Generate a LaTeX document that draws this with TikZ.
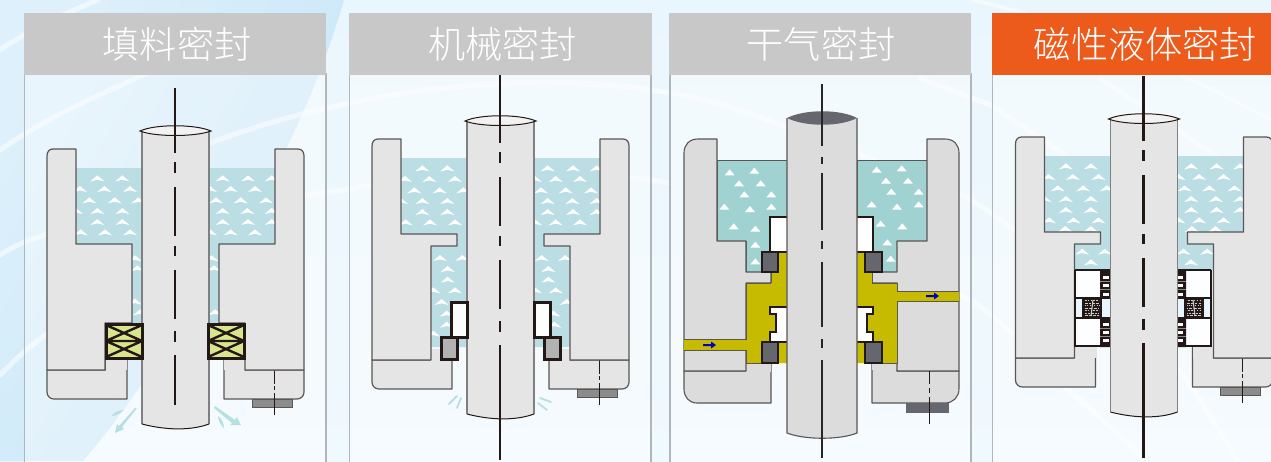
\documentclass[tikz,border=0pt]{standalone}
\usepackage{fontspec}
\newfontfamily\cjk{Noto Sans CJK SC Light}
\definecolor{bodyg}{HTML}{E5E5E5}
\definecolor{bodyh}{HTML}{DCDCDC}
\definecolor{liq}{HTML}{BBDDE4}
\definecolor{liqh}{HTML}{A0D2D2}
\definecolor{ink}{HTML}{231815}
\definecolor{edge}{HTML}{5A5655}
\definecolor{pack}{HTML}{D8E58C}
\definecolor{gas}{HTML}{C7BB00}
\definecolor{slate}{HTML}{66666E}
\definecolor{bolth}{HTML}{8C8C8C}
\definecolor{head}{HTML}{C8C8C8}
\definecolor{hot}{HTML}{EC5A1C}
\definecolor{frame}{HTML}{B0B6BC}
\definecolor{bg}{HTML}{EAF6FD}
\definecolor{drop}{HTML}{B5E0E0}
\definecolor{wedgea}{HTML}{DDF0FB}
\definecolor{wedgeb}{HTML}{C4E5F8}
\tikzset{
  bodypart/.style={fill=bodyg,draw=edge,line width=1.2pt,line join=round},
  bodyparth/.style={fill=bodyh,draw=edge,line width=1.1pt,line join=round},
  shaftside/.style={draw=black!50,line width=1.3pt},
  shaftcap/.style={draw=ink,line width=1pt},
  axisline/.style={draw=ink,line width=2.2pt},
  boltline/.style={draw=ink,line width=.9pt},
  sealbox/.style={draw=ink,line width=3pt,line join=miter},
  headbox/.style={minimum height=62pt,inner sep=0pt,text=white,font=\cjk\fontsize{37.2pt}{38pt}\selectfont},
  streak/.style={draw=white,opacity=.55,line width=5pt,line cap=round},
  panelbox/.style={draw=frame,line width=1.2pt,fill=white,fill opacity=.38}
}
\newcommand{\chv}[2]{\fill[white,shift={({20+#1/3},{80+#2/3})}] (-7,3) -- (0,-3) -- (7,3) -- (0,1.4) -- cycle;}
\newcommand{\tri}[2]{\fill[white,shift={({665+#1/3},{80+#2/3})}] (-5,3) -- (0,-3) -- (5,3) -- cycle;}
\newcommand{\upperchv}{%
  \foreach \a/\b in {232/295,307/295,180/327,253/327,330/327,208/361,284/361,355/361,168/393,232/393,307/393,232/426,307/426,182/457,255/457,330/457,
    608/295,684/295,755/295,570/327,632/327,705/327,588/361,662/361,738/361,608/393,682/393,755/393,608/426,684/426,755/426,570/457,632/457,705/457}{\chv{\a}{\b}}}
\newcommand{\glands}{%
  \path[bodypart] (127,359) -- (127,399) -- (54,399) .. controls (50,399) and (47,396) .. (47,392) -- (47,370) -- (105.5,370) -- (105.5,359);
  \path[fill=bodyg] (105.5,359) rectangle (127,370);
  \path[bodypart] (224,359) -- (224,399) -- (297,399) .. controls (301,399) and (304,396) .. (304,392) -- (304,370) -- (245,370) -- (245,359);
  \path[fill=bodyg] (224,359) rectangle (245,370);
  \path[fill=bolth,draw=edge,line width=.8pt] (252,399) rectangle (292,407);
  \draw[boltline] (274,370) -- (274,384) (274,386) -- (274,390) (274,393) -- (274,415);
}
\newcommand{\bodies}[2]{%
  \path[bodypart] (76,168) -- (76,149) -- (53,149) .. controls (49,149) and (47,152) .. (47,156) -- (47,370) -- #1 -- (76,244) -- cycle;
  \path[bodypart] (275,168) -- (275,149) -- (298,149) .. controls (302,149) and (304,152) .. (304,156) -- (304,370) -- #2 -- (275,244) -- cycle;
}
\newcommand{\shaft}[1]{%
  \path[fill=bodyg] (142,131) -- (209,131) -- (209,424) .. controls (190,431) and (165,430) .. (142,424) -- cycle;
  \path[shaftside] (142,131) -- (142,424) (209,131) -- (209,424);
  \path[shaftcap] (142,424) .. controls (165,430) and (190,431) .. (209,424);
  \path[shaftcap,fill=#1] (140,131) .. controls (155,124) and (195,124) .. (211,131) .. controls (195,137) and (155,137) .. (140,131) -- cycle;
}
\newcommand{\axis}[2]{%
  \path[axisline] (175,#1) -- (175,153) (175,162) -- (175,173) (175,187) -- (175,236) (175,246) -- (175,256) (175,270) -- (175,319) (175,331) -- (175,342) (175,355) -- (175,#2);
}
\newcommand{\magnethalf}{%
  \path[fill=white!92!bg] (1075,270) rectangle (1110,347);
  \path[fill=bg] (1075,298) rectangle (1110,318);
  \path[fill=ink] (1100,270) rectangle (1110,298) (1100,318) rectangle (1110,347);
  \foreach \y in {276,284,293,323,331,339}{\path[fill=white] (1103,\y) rectangle (1109,{\y+3});}
  \foreach \y in {281,289.5,328,336.5}{\path[draw=black!45,line width=.6pt] (1100,\y) -- (1110,\y);}
  \path[fill=ink] (1082,298) rectangle (1102,318);
  \foreach \y/\p in {300.5/1.5,303/2.5,305.5/1,308/3,310.5/1.5,313/2,315.5/2.8}{
    \draw[black!20,line width=1pt,dash pattern=on \p pt off 1.3pt] (1085,\y) -- (1099,\y);}
  \draw[black!20,line width=1.1pt] (1093,300) -- (1091,316);
  \path[draw=ink,line width=2pt] (1075,270) -- (1110,270) (1075,298) -- (1110,298) (1075,318) -- (1110,318);
  \path[draw=ink,line width=2.8pt] (1075,346) -- (1110,346);
  \path[draw=ink,line width=1.6pt] (1075,270) -- (1075,347);
}
\begin{document}
\begin{tikzpicture}[x=1pt,y=-1pt]
\useasboundingbox (0,0) rectangle (1271,461);
\fill[bottom color=bg!70!white,top color=bg] (0,0) rectangle (1271,461);
% blue wedge
\path[left color=wedgea,right color=wedgeb,shading angle=60] (0,0) -- (344,0) .. controls (326,60) and (297,147) .. (210,280) .. controls (170,340) and (138,397) .. (83,461) -- (0,461) -- cycle;
% white streaks
\draw[streak] (0,50) .. controls (30,30) and (60,15) .. (98,0);
\draw[streak] (0,150) .. controls (50,115) and (100,95) .. (165,65);
\draw[streak] (205,145) .. controls (300,108) and (420,85) .. (520,83) .. controls (640,80) and (720,100) .. (775,123) .. controls (840,145) and (900,170) .. (930,185);
\draw[streak] (0,255) .. controls (60,215) and (200,210) .. (345,190) .. controls (460,165) and (560,165) .. (670,183);
\draw[streak] (955,192) .. controls (975,200) and (1000,220) .. (1020,233);
\draw[streak] (0,375) .. controls (15,360) and (30,345) .. (50,332);
\draw[streak] (955,292) .. controls (980,303) and (1000,322) .. (1020,340);
\draw[streak] (920,78) .. controls (945,88) and (965,95) .. (990,105) .. controls (1020,125) and (1050,145) .. (1075,162);
\draw[streak] (1100,78) .. controls (1140,105) and (1200,145) .. (1271,192);
\draw[streak] (1060,383) .. controls (1090,408) and (1120,435) .. (1146,461);
\draw[streak] (1180,370) .. controls (1200,400) and (1220,430) .. (1238,461);
\draw[streak,line width=3.5pt] (972,0) .. controls (1040,15) and (1120,40) .. (1271,120);
% panels
\path[panelbox] (24.5,74) rectangle (326,470);
\path[panelbox] (349.5,74) rectangle (651,470);
\path[panelbox] (670,74) rectangle (971,470);
\path[panelbox] (992.5,74) rectangle (1280,470);
\node[headbox,fill=head,minimum width=302pt] (h1) at (175,44) {\hspace*{4pt}填料密封};
\node[headbox,fill=head,minimum width=303pt] (h2) at (500.5,44) {\hspace*{4pt}机械密封};
\node[headbox,fill=head,minimum width=302pt] (h3) at (820,44) {\hspace*{2pt}干气密封};
\node[headbox,fill=hot,minimum width=279pt,text width=279pt,align=center] (h4) at (1131.5,44) {\hspace*{28pt}磁性液体密封};
% ---------- panel 1
\begin{scope}
\path[fill=liq] (76,168) rectangle (275,244) (132,244) rectangle (219,323);
\upperchv
\foreach \a/\b in {345/535,352/565,345/665,360/697,582/565,585/697,575/535}{\chv{\a}{\b}}
\glands
\bodies{(105,370) -- (105,323) -- (132,323) -- (132,244)}{(245,370) -- (245,323) -- (219,323) -- (219,244)}
\shaft{bodyg!50!white}
\foreach \xa/\xb in {106/142,208/244}{
  \path[sealbox,fill=pack] (\xa,324) rectangle (\xb,358);
  \path[sealbox,line width=2.4pt] (\xa,341) -- (\xb,341) (\xa,325) -- (\xb,341) (\xa,341) -- (\xb,325) (\xa,341) -- (\xb,357) (\xa,357) -- (\xb,341);
}
\axis{88}{405}
% leak arrows
\fill[drop] (135.5,407.5) -- (136.7,408.5) -- (122,427) -- (124,429) -- (115,433) -- (117,424) -- (119,426) -- cycle;
\fill[drop] (124,410) .. controls (118,410) and (112,414) .. (112,416) .. controls (116,416) and (120,413) .. (124,410) -- cycle;
\fill[drop] (215,406) -- (235,420) -- (237,417) -- (241,425) -- (230,425) -- (232,423) -- (214,408) -- cycle;
\fill[drop] (218,416) .. controls (218,420) and (221,426) .. (224,428) .. controls (224,424) and (222,419) .. (218,416) -- cycle;
\end{scope}
% ---------- panel 2
\begin{scope}[shift={(325,-10)}]
\path[fill=liq] (76,168) rectangle (275,244) (106,244) rectangle (245,357);
\upperchv
\foreach \a/\b in {285/564,308/597,308/629,330/661,290/696,352/564,265/661,305/731,305/764,265/791,590/564,610/597,610/629,632/661,660/564,665/696,625/731,628/764,570/661}{\chv{\a}{\b}}
\glands
\bodies{(106,370) -- (106,256) -- (132,256) -- (132,244)}{(245,370) -- (245,256) -- (219,256) -- (219,244)}
\shaft{bodyg!50!white}
\path[sealbox,fill=white] (126,312) rectangle (142,347);
\path[sealbox,fill=white] (209,312) rectangle (225,347);
\path[sealbox,fill=black!30] (116,347) rectangle (132,369);
\path[sealbox,fill=black!30] (219,347) rectangle (235,369);
\axis{85}{470}
\foreach \sx/\sy/\ex/\ey in {132/406/124/414,136/408/132/418,215/408/226/412,213/413/222/420}{
  \draw[drop,line width=1.8pt,line cap=round] (\sx,\sy) -- (\ex,\ey);}
\end{scope}
% ---------- panel 3
\begin{scope}
\path[fill=liqh,draw=edge,line width=1pt] (717,160) -- (787,160) -- (787,272) -- (746,272) -- (746,241) -- (717,241) -- cycle;
\path[fill=liqh,draw=edge,line width=1pt] (857,160) -- (927,160) -- (927,241) -- (897,241) -- (897,272) -- (857,272) -- cycle;
\foreach \a/\b in {194/277,268/272,222/310,287/310,238/343,319/343,178/380,255/387,319/380,206/439,271/446,271/494,271/544,635/269,710/265,663/302,729/302,679/335,761/335,620/373,696/380,761/373,647/431,712/439,667/487,677/536}{\tri{\a}{\b}}
% left block
\path[bodyparth] (771,363) -- (771,403) -- (697,403) .. controls (689,403) and (684,397) .. (684,389) -- (684,371) -- (746,371) -- (746,363);
\path[fill=bodyh] (746,363) rectangle (771,372);
\path[bodyparth] (717,160) -- (717,139) -- (698,139) .. controls (689,139) and (684,145) .. (684,153) -- (684,371) -- (746,371) -- (746,283) -- (771,283) -- (771,272) -- (746,272) -- (746,241) -- (717,241) -- cycle;
% right block
\path[bodyparth] (872,363) -- (872,403) -- (945,403) .. controls (953,403) and (959,397) .. (959,389) -- (959,371) -- (897,371) -- (897,363);
\path[fill=bodyh] (872,363) rectangle (897,370);
\path[bodyparth] (927,160) -- (927,139) -- (945,139) .. controls (954,139) and (959,145) .. (959,153) -- (959,371) -- (897,371) -- (897,283) -- (872,283) -- (872,272) -- (897,272) -- (897,241) -- (927,241) -- cycle;
% barrier gas
\path[fill=gas] (787,252) -- (771,252) -- (771,283) -- (746,283) -- (746,339) -- (684,339) -- (684,350) -- (746,350) -- (746,363) -- (787,363) -- cycle;
\path[draw=edge,line width=1pt] (684,339) -- (746,339) -- (746,283) -- (771,283) (684,350) -- (746,350) -- (746,363) -- (771,363);
\path[fill=gas] (857,252) -- (872,252) -- (872,283) -- (897,283) -- (897,291) -- (959,291) -- (959,301) -- (897,301) -- (897,363) -- (857,363) -- cycle;
\path[draw=edge,line width=1pt] (872,283) -- (897,283) -- (897,291) -- (959,291) (959,301) -- (897,301) -- (897,363) -- (872,363);
\path[draw=edge,line width=1pt] (872,272) -- (872,283) (771,272) -- (771,283);
% rings
\path[fill=white,draw=ink,line width=1.2pt] (787,217) -- (770,217) -- (770,252) -- (787,252);
\path[fill=white,draw=ink,line width=1.2pt] (857,217) -- (873,217) -- (873,252) -- (857,252);
\path[fill=slate,draw=ink,line width=1.2pt] (762,252) rectangle (778,272);
\path[fill=slate,draw=ink,line width=1.2pt] (865,252) rectangle (882,272);
\path[fill=white,draw=ink,line width=1.2pt] (787,307) -- (770,307) -- (770,314) -- (776,314) -- (776,332) -- (770,332) -- (770,342) -- (787,342);
\path[fill=white,draw=ink,line width=1.2pt] (857,307) -- (873,307) -- (873,314) -- (867,314) -- (867,332) -- (873,332) -- (873,342) -- (857,342);
\path[fill=slate,draw=ink,line width=1.2pt] (762,342) rectangle (778,363);
\path[fill=slate,draw=ink,line width=1.2pt] (865,342) rectangle (882,363);
% bolt
\path[fill=slate] (906,403) rectangle (949,413);
\draw[boltline] (929,371) -- (929,384) (929,388) -- (929,393) (929,397) -- (929,424);
% shaft
\path[fill=bodyh] (787,118) -- (857,118) -- (857,433) .. controls (840,440) and (805,440) .. (787,433) -- cycle;
\path[draw=edge,line width=1.1pt] (787,118) -- (787,433) .. controls (805,440) and (840,440) .. (857,433) -- (857,118);
\path[fill=slate] (787,118) .. controls (805,109) and (840,109) .. (857,118) .. controls (840,127) and (805,127) .. (787,118) -- cycle;
\path[draw=black!85,line width=1.3pt] (822,84) -- (822,146) (822,157) -- (822,164) (822,173) -- (822,230) (822,241) -- (822,249) (822,262) -- (822,327) (822,339) -- (822,348) (822,360) -- (822,458);
% gas flow arrows
\fill[blue!75!black] (703,344) -- (711,344) -- (711,341.5) -- (716,345) -- (711,348.5) -- (711,346) -- (703,346) -- cycle;
\fill[blue!75!black] (926,295) -- (934,295) -- (934,292.5) -- (939,296) -- (934,299.5) -- (934,297) -- (926,297) -- cycle;
\end{scope}
% ---------- panel 4
\begin{scope}[shift={(968.5,-12)}]
\path[fill=liq] (76,168) rectangle (275,244) (106,244) rectangle (245,282);
\upperchv
\foreach \a/\b in {281/551,307/583,349/551,585/551,656/551,607/583,230/483,307/483,610/483,681/483}{\chv{\a}{\b}}
\glands
\bodies{(106,370) -- (106,256) -- (132,256) -- (132,244)}{(245,370) -- (245,256) -- (219,256) -- (219,244)}
\end{scope}
\begin{scope}
\magnethalf
\end{scope}
\begin{scope}[shift={(2286,0)},xscale=-1]
\magnethalf
\end{scope}
\begin{scope}[shift={(968.5,-12)}]
\shaft{bodyg!50!white}
\axis{88}{470}
\end{scope}
\end{tikzpicture}
\end{document}
